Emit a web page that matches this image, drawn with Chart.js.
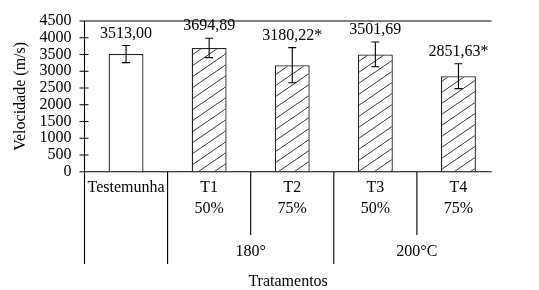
<!DOCTYPE html>
<html>
<head>
<meta charset="utf-8">
<script src="https://cdn.jsdelivr.net/npm/chart.js@4.4.1/dist/chart.umd.min.js"></script>
<style>
  html, body { margin: 0; padding: 0; background: #fff; }
  #c { display: block; }
</style>
</head>
<body>
<canvas id="c" width="539" height="290"></canvas>
<script>
// ---- data ----
const categories = [['Testemunha'], ['T1', '50%'], ['T2', '75%'], ['T3', '50%'], ['T4', '75%']];
const velocities = [3513.00, 3694.89, 3180.22, 3501.69, 2851.63];
const valueLabels = ['3513,00', '3694,89', '3180,22*', '3501,69', '2851,63*'];
const errors = [255, 290, 525, 370, 370];
const hatched = [false, true, true, true, true];
const groupLabels = ['180°', '200°C'];
const groupFirst = [1, 3];
const groupLast = [2, 4];
const yTicks = [0, 500, 1000, 1500, 2000, 2500, 3000, 3500, 4000, 4500];
const yTitle = 'Velocidade (m/s)';
const xTitle = 'Tratamentos';

const FONT = 'Liberation Serif';

function makeHatch() {
  const W = 16, H = 11;
  const cv = document.createElement('canvas');
  cv.width = W; cv.height = H;
  const g = cv.getContext('2d');
  g.fillStyle = '#fff';
  g.fillRect(0, 0, W, H);
  g.strokeStyle = '#333';
  g.lineWidth = 1;
  g.beginPath();
  g.moveTo(-W, 2 * H);
  g.lineTo(2 * W, -H);
  g.stroke();
  return g.createPattern(cv, 'repeat');
}
const hatch = makeHatch();

const decorations = {
  id: 'decorations',
  afterDatasetsDraw(chart) {
    const ctx = chart.ctx;
    const x = chart.scales.x, y = chart.scales.y;
    const area = chart.chartArea;
    const catW = x.getPixelForValue(1) - x.getPixelForValue(0);
    const left = area.left;
    const lineEnd = area.right - 0.1 * catW;
    const yTop = y.getPixelForValue(yTicks[yTicks.length - 1]);
    const yZero = y.getPixelForValue(0);
    const longEnd = 264, shortEnd = 235;

    ctx.save();
    ctx.strokeStyle = '#000';
    ctx.lineWidth = 1.1;

    // error bars
    const meta = chart.getDatasetMeta(0);
    meta.data.forEach((bar, i) => {
      const cx = bar.x;
      const t = y.getPixelForValue(velocities[i] + errors[i]);
      const b = y.getPixelForValue(velocities[i] - errors[i]);
      ctx.beginPath();
      ctx.moveTo(cx, t); ctx.lineTo(cx, b);
      ctx.moveTo(cx - 4, t); ctx.lineTo(cx + 4, t);
      ctx.moveTo(cx - 4, b); ctx.lineTo(cx + 4, b);
      ctx.stroke();
      // value label
      ctx.fillStyle = '#000';
      ctx.font = '16px "' + FONT + '"';
      ctx.textAlign = 'center';
      ctx.textBaseline = 'middle';
      ctx.fillText(valueLabels[i], cx, t - 12);
    });

    // top line
    ctx.beginPath();
    ctx.moveTo(left - 5, yTop); ctx.lineTo(lineEnd, yTop);
    // zero line
    ctx.moveTo(left - 5, yZero); ctx.lineTo(lineEnd, yZero);
    // y axis line + continuing separator
    ctx.moveTo(left, yTop); ctx.lineTo(left, longEnd);
    // ticks crossing axis
    yTicks.forEach(v => {
      const py = y.getPixelForValue(v);
      ctx.moveTo(left - 5, py); ctx.lineTo(left + 4, py);
    });
    // category separators
    for (let i = 1; i < categories.length; i++) {
      const bx = (x.getPixelForValue(i - 1) + x.getPixelForValue(i)) / 2;
      const isGroupEdge = groupFirst.includes(i);
      ctx.moveTo(bx, yZero);
      ctx.lineTo(bx, isGroupEdge ? longEnd : shortEnd);
    }
    ctx.stroke();

    // group labels
    ctx.fillStyle = '#000';
    ctx.font = '16px "' + FONT + '"';
    ctx.textAlign = 'center';
    ctx.textBaseline = 'middle';
    groupLabels.forEach((lab, k) => {
      const gx = (x.getPixelForValue(groupFirst[k]) + x.getPixelForValue(groupLast[k])) / 2;
      ctx.fillText(lab, gx, 251.5);
    });

    // x title
    ctx.fillText(xTitle, (left + lineEnd) / 2, 281.5);
    ctx.restore();
  }
};

new Chart(document.getElementById('c'), {
  type: 'bar',
  data: {
    labels: categories,
    datasets: [{
      data: velocities,
      backgroundColor: hatched.map(h => h ? hatch : '#ffffff'),
      borderColor: '#222',
      borderWidth: 1.3,
      categoryPercentage: 1,
      barPercentage: 0.42
    }]
  },
  options: {
    responsive: false,
    animation: false,
    layout: { padding: { top: 17, right: 39, left: 0, bottom: 0 } },
    plugins: { legend: { display: false }, tooltip: { enabled: false } },
    scales: {
      x: {
        grid: { display: false, drawTicks: false },
        border: { display: false },
        ticks: {
          font: { family: FONT, size: 16, lineHeight: 1.3 },
          color: '#000',
          padding: 6,
          maxRotation: 0,
          autoSkip: false
        },
        afterFit: s => { s.height = 290 - 171.7; }
      },
      y: {
        min: 0,
        max: 4500,
        afterBuildTicks: s => { s.ticks = yTicks.map(v => ({ value: v })); },
        grid: { display: false, drawTicks: false },
        border: { display: false },
        ticks: {
          font: { family: FONT, size: 16, lineHeight: 1 },
          color: '#000',
          padding: 13,
          autoSkip: false,
          callback: v => String(v)
        },
        title: {
          display: true,
          text: yTitle,
          color: '#000',
          font: { family: FONT, size: 16 },
          padding: { top: 11, bottom: 0 }
        },
        afterFit: s => { s.width = 84.5; }
      }
    }
  },
  plugins: [decorations]
});
</script>
</body>
</html>
